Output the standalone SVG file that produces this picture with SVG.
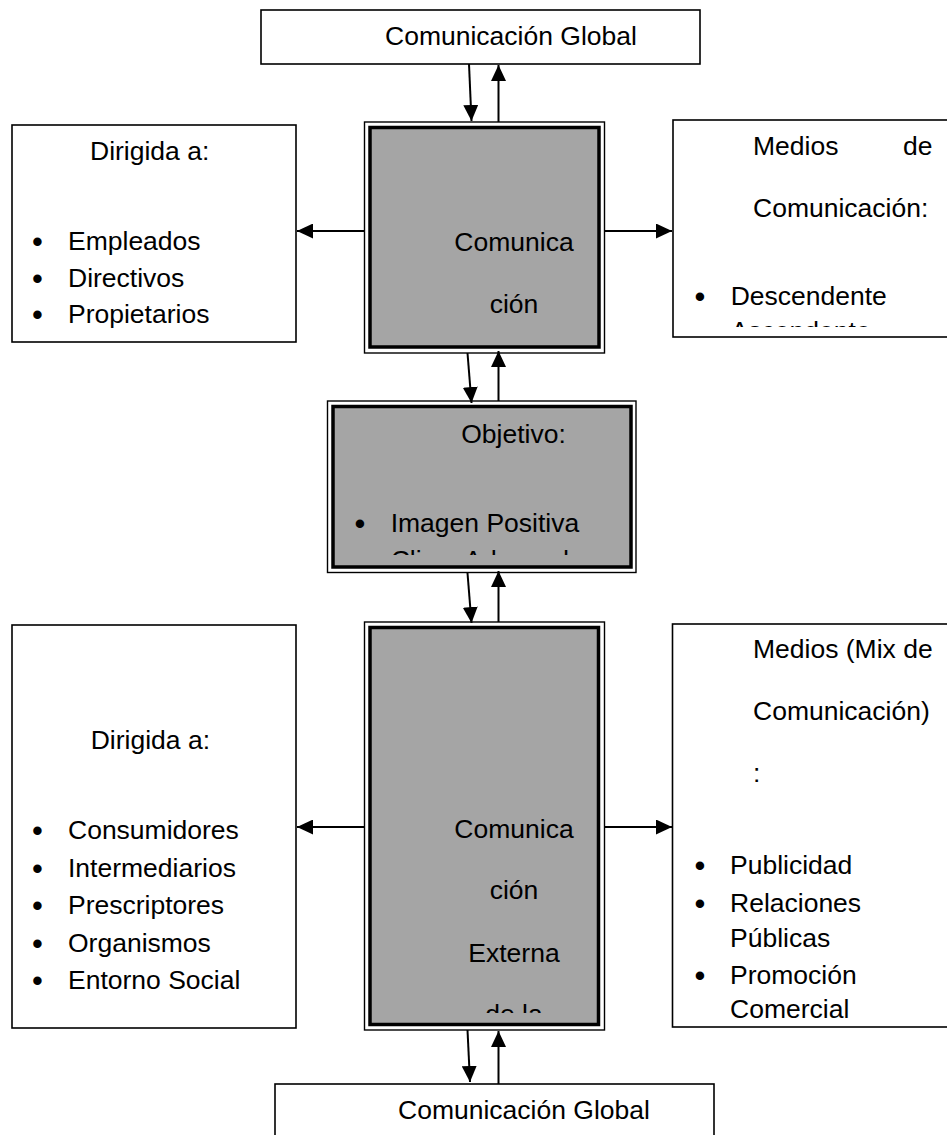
<svg xmlns="http://www.w3.org/2000/svg" width="947" height="1135" viewBox="0 0 947 1135">
  <defs>
    <style>
      .box { fill: #ffffff; stroke: #000000; stroke-width: 1.6; }
      .outer { fill: #ffffff; stroke: #000000; stroke-width: 1.4; }
      .inner { fill: #a5a5a5; stroke: #000000; stroke-width: 3.5; }
      .t { font-family: "Liberation Sans", Arial, sans-serif; font-size: 26.5px; fill: #000000; }
      .mid { text-anchor: middle; }
      .dot { font-family: "Liberation Sans", Arial, sans-serif; font-size: 31px; fill: #000000; text-anchor: middle; }
      .link { fill: none; stroke: #000000; stroke-width: 2; marker-end: url(#head); }
    </style>
    <marker id="head" markerUnits="userSpaceOnUse" markerWidth="16" markerHeight="15" refX="16" refY="7.5" orient="auto">
      <path d="M0,0 L16,7.5 L0,15 Z" fill="#000000"/>
    </marker>
    <clipPath id="clipObjective"><rect x="334" y="407" width="296" height="148"/></clipPath>
    <clipPath id="clipMedios1"><rect x="673" y="121" width="274" height="206"/></clipPath>
    <clipPath id="clipExterna"><rect x="371" y="628" width="227" height="385"/></clipPath>
  </defs>

  <!-- top: global communication -->
  <g id="global-top">
    <rect class="box" x="261" y="10" width="439" height="54"/>
    <text class="t" x="385" y="45">Comunicación Global</text>
  </g>

  <!-- internal communication (centre) -->
  <g id="interna">
    <rect class="outer" x="364.5" y="122" width="240" height="231"/>
    <rect class="inner" x="370" y="127.5" width="229" height="219.5"/>
    <text class="t mid" x="514" y="250.7">Comunica</text>
    <text class="t mid" x="514" y="312.7">ción</text>
  </g>

  <!-- internal audience -->
  <g id="dirigida-interna">
    <rect class="box" x="12" y="125" width="284" height="217"/>
    <text class="t" x="90" y="160">Dirigida a:</text>
    <text class="dot" x="37.5" y="252">•</text>
    <text class="t" x="68" y="250">Empleados</text>
    <text class="dot" x="37.5" y="289">•</text>
    <text class="t" x="68" y="287">Directivos</text>
    <text class="dot" x="37.5" y="325">•</text>
    <text class="t" x="68" y="323">Propietarios</text>
  </g>

  <!-- internal media -->
  <g id="medios-interna">
    <rect class="box" x="673" y="120" width="290" height="217"/>
    <g clip-path="url(#clipMedios1)">
      <text class="t" x="753" y="155">Medios</text>
      <text class="t" x="903" y="155">de</text>
      <text class="t" x="753" y="216.7">Comunicación:</text>
      <text class="dot" x="700" y="307">•</text>
      <text class="t" x="730.7" y="305">Descendente</text>
      <text class="dot" x="700" y="342">•</text>
      <text class="t" x="730.7" y="340">Ascendente</text>
    </g>
  </g>

  <!-- objective -->
  <g id="objetivo">
    <rect class="outer" x="327.5" y="401" width="308.5" height="171.5"/>
    <rect class="inner" x="333" y="406.5" width="298" height="160.5"/>
    <g clip-path="url(#clipObjective)">
      <text class="t mid" x="513.5" y="443.3">Objetivo:</text>
      <text class="dot" x="360" y="533.7">•</text>
      <text class="t" x="390.7" y="531.7">Imagen Positiva</text>
      <text class="dot" x="360" y="571">•</text>
      <text class="t" x="390.7" y="569">Clima Adecuado</text>
    </g>
  </g>

  <!-- external communication (centre) -->
  <g id="externa">
    <rect class="outer" x="364.5" y="622" width="240" height="408"/>
    <rect class="inner" x="370" y="627.5" width="228.5" height="397"/>
    <g clip-path="url(#clipExterna)">
      <text class="t mid" x="514" y="838.3">Comunica</text>
      <text class="t mid" x="514" y="899.3">ción</text>
      <text class="t mid" x="514" y="961.7">Externa</text>
      <text class="t mid" x="514" y="1023">de la</text>
    </g>
  </g>

  <!-- external audience -->
  <g id="dirigida-externa">
    <rect class="box" x="12" y="625" width="284" height="403"/>
    <text class="t" x="90.7" y="749.3">Dirigida a:</text>
    <text class="dot" x="37.5" y="841">•</text>
    <text class="t" x="68" y="839">Consumidores</text>
    <text class="dot" x="37.5" y="879">•</text>
    <text class="t" x="68" y="877">Intermediarios</text>
    <text class="dot" x="37.5" y="916">•</text>
    <text class="t" x="68" y="914">Prescriptores</text>
    <text class="dot" x="37.5" y="954">•</text>
    <text class="t" x="68" y="952">Organismos</text>
    <text class="dot" x="37.5" y="991">•</text>
    <text class="t" x="68" y="989">Entorno Social</text>
  </g>

  <!-- external media mix -->
  <g id="medios-externa">
    <rect class="box" x="672.5" y="624" width="290" height="403"/>
    <text class="t" x="753" y="658">Medios (Mix de</text>
    <text class="t" x="753" y="720">Comunicación)</text>
    <text class="t" x="753" y="782">:</text>
    <text class="dot" x="700" y="876">•</text>
    <text class="t" x="730" y="874">Publicidad</text>
    <text class="dot" x="700" y="914">•</text>
    <text class="t" x="730" y="912">Relaciones</text>
    <text class="t" x="730" y="946.5">Públicas</text>
    <text class="dot" x="700" y="985.5">•</text>
    <text class="t" x="730" y="983.5">Promoción</text>
    <text class="t" x="730" y="1018">Comercial</text>
  </g>

  <!-- bottom: global communication -->
  <g id="global-bottom">
    <rect class="box" x="275" y="1084" width="439" height="60"/>
    <text class="t" x="398" y="1119.3">Comunicación Global</text>
  </g>

  <!-- connectors -->
  <g id="connectors">
    <path class="link" d="M469,64 L471.5,121"/>
    <path class="link" d="M498.5,122 L498.5,65"/>
    <path class="link" d="M467.5,353 L471.5,403"/>
    <path class="link" d="M498.5,401 L498.5,351"/>
    <path class="link" d="M467.5,573 L471.5,623"/>
    <path class="link" d="M498.5,622 L498.5,571"/>
    <path class="link" d="M467.5,1030 L470,1082"/>
    <path class="link" d="M498.5,1084 L498.5,1031"/>
    <path class="link" d="M364,231 L297,231"/>
    <path class="link" d="M605,231 L672,231"/>
    <path class="link" d="M364,827 L297,827"/>
    <path class="link" d="M605,827 L672,827"/>
  </g>
</svg>
